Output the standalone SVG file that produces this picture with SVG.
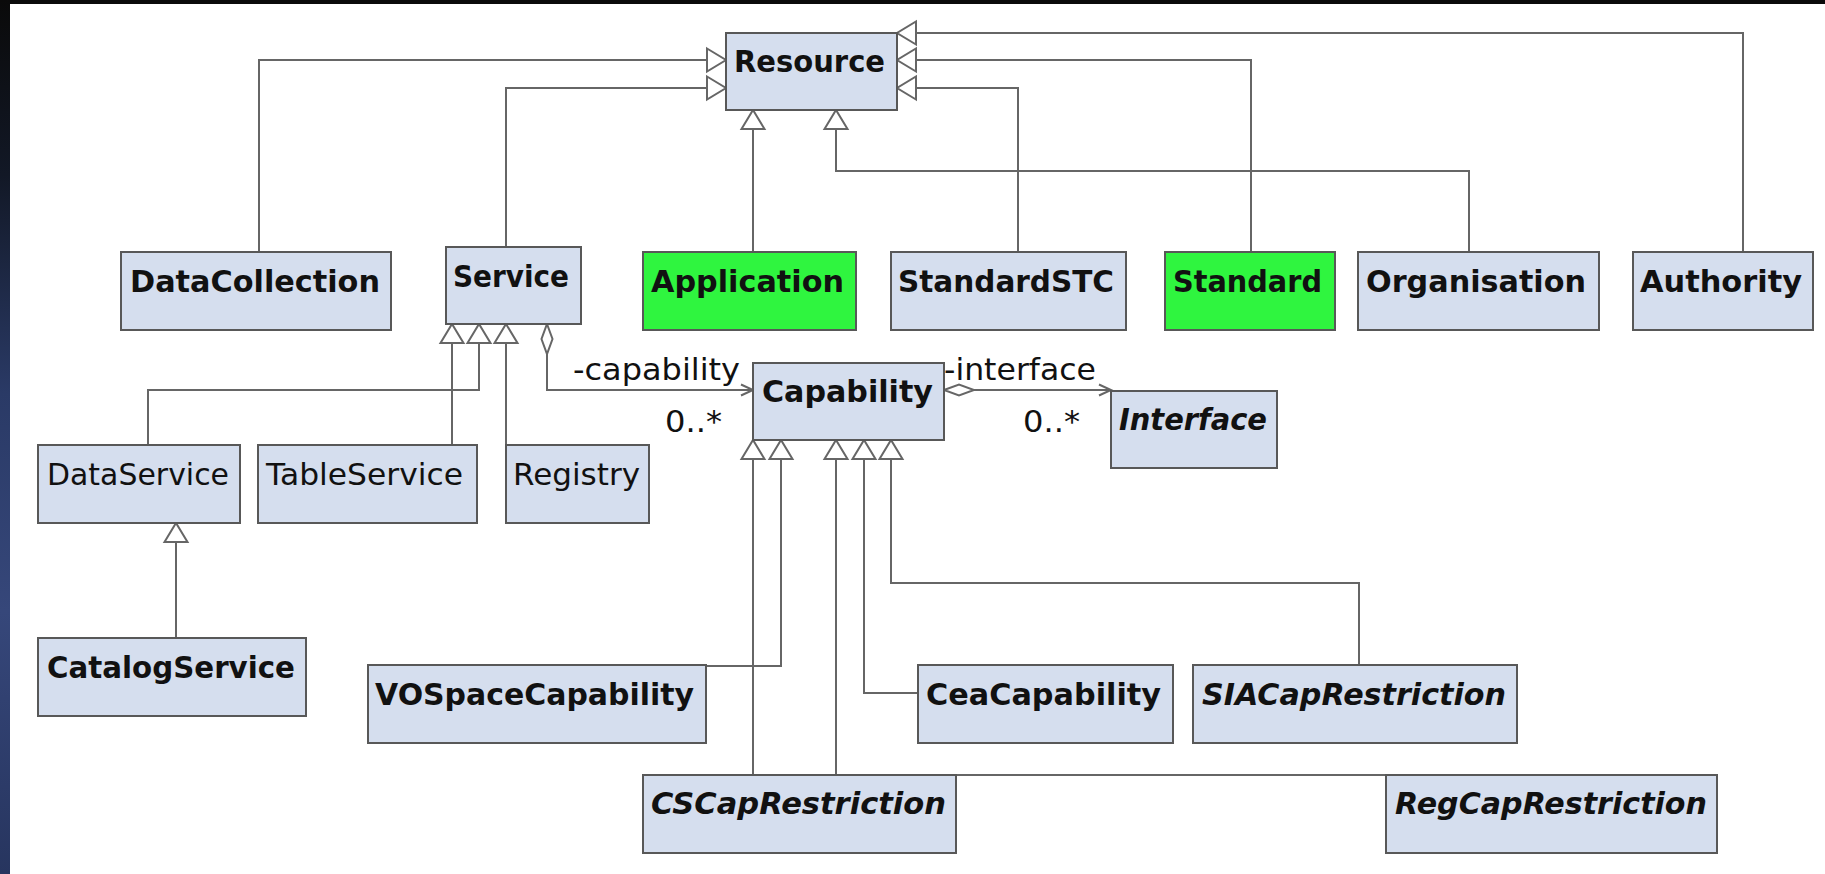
<svg xmlns="http://www.w3.org/2000/svg" width="1825" height="874" viewBox="0 0 1825 874">
  <style>
    .cls rect { fill: #d5deee; stroke: #585858; stroke-width: 2; }
    .cls.green rect { fill: #2ff53f; }
    .cls text { font-family: "DejaVu Sans", "Liberation Sans", sans-serif; font-size: 29.5px; font-weight: bold; fill: #111; }
    .cls text.plain { font-weight: normal; }
    .cls text.abstract { font-style: italic; }
    .edge { fill: none; stroke: #666; stroke-width: 2; }
    .gen { marker-end: url(#gen); }
    .lbl { font-family: "DejaVu Sans", "Liberation Sans", sans-serif; font-size: 29.5px; fill: #111; }
  </style>
  <defs>
    <linearGradient id="side" x1="0" y1="0" x2="0" y2="1">
      <stop offset="0" stop-color="#0a0a0a"/>
      <stop offset="0.2" stop-color="#121826"/>
      <stop offset="0.45" stop-color="#2a3a66"/>
      <stop offset="0.7" stop-color="#36477a"/>
      <stop offset="1" stop-color="#27355f"/>
    </linearGradient>
    <!-- generalization: hollow triangle -->
    <marker id="gen" markerUnits="userSpaceOnUse" markerWidth="24" markerHeight="26" refX="20" refY="12" orient="auto" overflow="visible">
      <path d="M1,0.5 L20,12 L1,23.5 Z" fill="#fff" stroke="#666" stroke-width="2"/>
    </marker>
    <!-- navigable end: open arrow -->
    <marker id="nav" markerUnits="userSpaceOnUse" markerWidth="14" markerHeight="14" refX="13" refY="6" orient="auto" overflow="visible">
      <path d="M1,0.5 L13,6 L1,11.5" fill="none" stroke="#666" stroke-width="2"/>
    </marker>
    <!-- aggregation: hollow diamond -->
    <marker id="agg" markerUnits="userSpaceOnUse" markerWidth="32" markerHeight="14" refX="0" refY="6" orient="auto" overflow="visible">
      <path d="M0,6 L15,0.5 L30,6 L15,11.5 Z" fill="#fff" stroke="#666" stroke-width="2"/>
    </marker>
  </defs>

  <!-- backdrop -->
  <rect x="0" y="0" width="1825" height="874" fill="#0a0a0a"/>
  <rect x="0" y="0" width="10" height="874" fill="url(#side)"/>
  <rect x="10" y="4" width="1815" height="870" fill="#ffffff"/>

  <!-- connectors -->
  <g id="connectors">
    <path class="edge gen" d="M259,252 V60 H726"/>
    <path class="edge gen" d="M506,247 V88 H726"/>
    <path class="edge gen" d="M753,252 V110"/>
    <path class="edge gen" d="M1469,252 V171 H836 V110"/>
    <path class="edge gen" d="M1018,252 V88 H897"/>
    <path class="edge gen" d="M1251,252 V60 H897"/>
    <path class="edge gen" d="M1743,252 V33 H897"/>

    <path class="edge gen" d="M452,445 V324"/>
    <path class="edge gen" d="M148,445 V390 H479 V324"/>
    <path class="edge gen" d="M506,445 V324"/>
    <path class="edge gen" d="M176,638 V523"/>

    <path class="edge" d="M547,324 V390 H753" marker-start="url(#agg)" marker-end="url(#nav)"/>
    <path class="edge" d="M944,390 H1111" marker-start="url(#agg)" marker-end="url(#nav)"/>

    <path class="edge gen" d="M706,666 H781 V440"/>
    <path class="edge gen" d="M753,775 V440"/>
    <path class="edge gen" d="M1386,775 H836 V440"/>
    <path class="edge gen" d="M918,693 H864 V440"/>
    <path class="edge gen" d="M1359,665 V583 H891 V440"/>

    <text class="lbl" x="573" y="380" textLength="167" lengthAdjust="spacingAndGlyphs">-capability</text>
    <text class="lbl" x="665" y="432" textLength="57" lengthAdjust="spacingAndGlyphs">0..*</text>
    <text class="lbl" x="944" y="380" textLength="152" lengthAdjust="spacingAndGlyphs">-interface</text>
    <text class="lbl" x="1023" y="432" textLength="57" lengthAdjust="spacingAndGlyphs">0..*</text>
  </g>

  <!-- classes -->
  <g id="Resource" class="cls"><rect x="726" y="33" width="171" height="77"/><text x="734" y="72" textLength="151" lengthAdjust="spacingAndGlyphs">Resource</text></g>
  <g id="DataCollection" class="cls"><rect x="121" y="252" width="270" height="78"/><text x="130" y="292" textLength="250" lengthAdjust="spacingAndGlyphs">DataCollection</text></g>
  <g id="Service" class="cls"><rect x="446" y="247" width="135" height="77"/><text x="453" y="287" textLength="116" lengthAdjust="spacingAndGlyphs">Service</text></g>
  <g id="Application" class="cls green"><rect x="643" y="252" width="213" height="78"/><text x="651" y="292" textLength="193" lengthAdjust="spacingAndGlyphs">Application</text></g>
  <g id="StandardSTC" class="cls"><rect x="891" y="252" width="235" height="78"/><text x="898" y="292" textLength="216" lengthAdjust="spacingAndGlyphs">StandardSTC</text></g>
  <g id="Standard" class="cls green"><rect x="1165" y="252" width="170" height="78"/><text x="1173" y="292" textLength="149" lengthAdjust="spacingAndGlyphs">Standard</text></g>
  <g id="Organisation" class="cls"><rect x="1358" y="252" width="241" height="78"/><text x="1366" y="292" textLength="220" lengthAdjust="spacingAndGlyphs">Organisation</text></g>
  <g id="Authority" class="cls"><rect x="1633" y="252" width="180" height="78"/><text x="1640" y="292" textLength="162" lengthAdjust="spacingAndGlyphs">Authority</text></g>

  <g id="Capability" class="cls"><rect x="753" y="363" width="191" height="77"/><text x="762" y="402" textLength="171" lengthAdjust="spacingAndGlyphs">Capability</text></g>
  <g id="Interface" class="cls"><rect x="1111" y="391" width="166" height="77"/><text class="abstract" x="1119" y="430" textLength="148" lengthAdjust="spacingAndGlyphs">Interface</text></g>

  <g id="DataService" class="cls"><rect x="38" y="445" width="202" height="78"/><text class="plain" x="47" y="485" textLength="182" lengthAdjust="spacingAndGlyphs">DataService</text></g>
  <g id="TableService" class="cls"><rect x="258" y="445" width="219" height="78"/><text class="plain" x="266" y="485" textLength="197" lengthAdjust="spacingAndGlyphs">TableService</text></g>
  <g id="Registry" class="cls"><rect x="506" y="445" width="143" height="78"/><text class="plain" x="513" y="485" textLength="127" lengthAdjust="spacingAndGlyphs">Registry</text></g>
  <g id="CatalogService" class="cls"><rect x="38" y="638" width="268" height="78"/><text x="47" y="678" textLength="248" lengthAdjust="spacingAndGlyphs">CatalogService</text></g>

  <g id="VOSpaceCapability" class="cls"><rect x="368" y="665" width="338" height="78"/><text x="375" y="705" textLength="319" lengthAdjust="spacingAndGlyphs">VOSpaceCapability</text></g>
  <g id="CeaCapability" class="cls"><rect x="918" y="665" width="255" height="78"/><text x="926" y="705" textLength="235" lengthAdjust="spacingAndGlyphs">CeaCapability</text></g>
  <g id="SIACapRestriction" class="cls"><rect x="1193" y="665" width="324" height="78"/><text class="abstract" x="1202" y="705" textLength="304" lengthAdjust="spacingAndGlyphs">SIACapRestriction</text></g>
  <g id="CSCapRestriction" class="cls"><rect x="643" y="775" width="313" height="78"/><text class="abstract" x="651" y="814" textLength="295" lengthAdjust="spacingAndGlyphs">CSCapRestriction</text></g>
  <g id="RegCapRestriction" class="cls"><rect x="1386" y="775" width="331" height="78"/><text class="abstract" x="1395" y="814" textLength="312" lengthAdjust="spacingAndGlyphs">RegCapRestriction</text></g>
</svg>
